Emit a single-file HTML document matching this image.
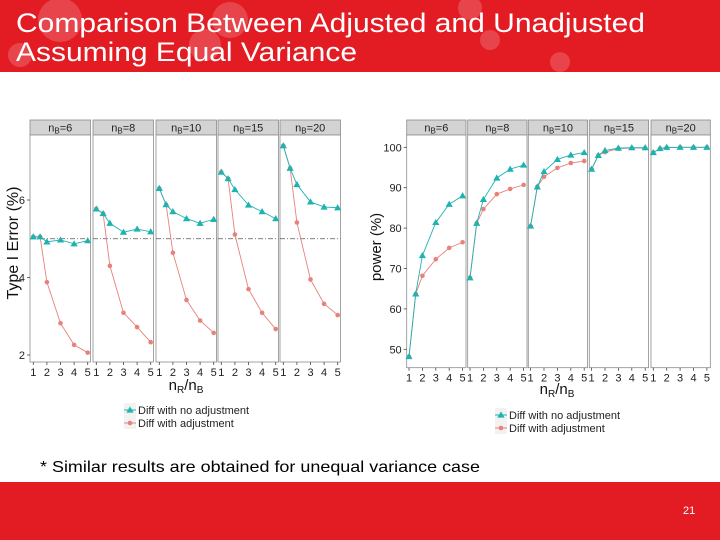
<!DOCTYPE html>
<html><head><meta charset="utf-8"><style>
html,body{margin:0;padding:0;background:#fff;}
svg{display:block;font-family:"Liberation Sans",Arial,sans-serif;}
</style></head><body>
<svg id="s" width="720" height="540" viewBox="0 0 720 540" xmlns="http://www.w3.org/2000/svg">
<rect x="0" y="0" width="720" height="72" fill="#e31b23"/>
<g fill="#ffffff" opacity="0.18">
<circle cx="60" cy="20" r="22"/><circle cx="230" cy="20" r="18"/><circle cx="205" cy="45" r="16"/><circle cx="470" cy="8" r="12"/><circle cx="490" cy="40" r="10"/><circle cx="560" cy="62" r="10"/><circle cx="20" cy="55" r="12"/>
</g>
<text x="16" y="32" font-size="27" fill="#fff" textLength="629" lengthAdjust="spacingAndGlyphs">Comparison Between Adjusted and Unadjusted</text>
<text x="16" y="61" font-size="27" fill="#fff" textLength="341" lengthAdjust="spacingAndGlyphs">Assuming Equal Variance</text>
<text x="40" y="472" font-size="16" fill="#000" textLength="440" lengthAdjust="spacingAndGlyphs">* Similar results are obtained for unequal variance case</text>
<rect x="0" y="482" width="720" height="58" fill="#e31b23"/>
<text x="683" y="514" font-size="11" fill="#fff">21</text>
<g id="left"></g>
<g id="right"></g>
</svg>
<script>
const groups = ["6","8","10","15","20"];
const xCats = [1,1.5,2,3,4,5];
const xTicks = [1,2,3,4,5];
const errTicks = [2,4,6];
const errNoAdj = [[5.05,5.05,4.92,4.97,4.87,4.95],[5.77,5.65,5.40,5.17,5.25,5.18],[6.30,5.88,5.70,5.52,5.40,5.50],[6.72,6.55,6.27,5.87,5.70,5.52],[7.40,6.82,6.40,5.95,5.82,5.80]];
const errAdj = [[5.05,5.05,3.88,2.82,2.26,2.06],[5.77,5.65,4.30,3.09,2.72,2.33],[6.30,5.88,4.64,3.42,2.89,2.57],[6.72,6.55,5.11,3.70,3.09,2.67],[7.40,6.82,5.42,3.95,3.32,3.03]];
const powTicks = [50,60,70,80,90,100];
const powNoAdj = [[48.2,63.7,73.2,81.4,85.9,88.0],[67.7,81.2,87.1,92.4,94.6,95.6],[80.5,90.2,94.0,97.0,98.1,98.7],[94.6,98.0,99.2,99.8,99.9,99.9],[98.7,99.7,100,100,100,100]];
const powAdj = [[48.2,63.7,68.2,72.3,75.1,76.5],[67.7,81.2,84.7,88.4,89.7,90.7],[80.5,90.2,92.7,94.9,96.1,96.6],[94.6,98.0,98.8,99.7,99.8,99.8],[98.7,99.7,99.9,100,100,100]];
const refLine = 5;
const NS="http://www.w3.org/2000/svg";
function mk(parent, tag, attrs, txt){const e=document.createElementNS(NS,tag);for(const k in attrs)e.setAttribute(k,attrs[k]);if(txt!==undefined)e.textContent=txt;parent.appendChild(e);return e;}
function chart(root, cfg){
  const yS = v => cfg.y0 - (v - cfg.v0) * cfg.k;
  for(let p=0;p<groups.length;p++){
    const L = cfg.lefts[p], W = cfg.w;
    const xS = v => L + cfg.xo + (v-1)*cfg.step;
    const g = mk(root,'g',{});
    
    
    const strip = mk(g,'rect',{x:L,y:cfg.top,width:W,height:15,fill:'#d3d3d3',stroke:'#8c8c8c','stroke-width':0.8});
    
    
    const st = mk(g,'text',{x:L+W/2,y:cfg.top+11.5,'font-size':11,'text-anchor':'middle',fill:'#222'});
    
    
    mk(st,'tspan',{},'n');mk(st,'tspan',{'font-size':8,dy:2},'B');mk(st,'tspan',{dy:-2},'='+groups[p]);
    const bg = mk(g,'rect',{x:L,y:cfg.top+15,width:W,height:cfg.bot-cfg.top-15,fill:'#fff',stroke:'#8c8c8c','stroke-width':0.8});
    
    
    if(cfg.ref){const rl=mk(g,'line',{x1:L,x2:L+W,y1:yS(refLine),y2:yS(refLine),stroke:'#555','stroke-width':0.8,'stroke-dasharray':'5,2,1,2'});
      
      }
    xTicks.forEach(t=>{
      mk(g,'line',{x1:xS(t),x2:xS(t),y1:cfg.bot,y2:cfg.bot+3,stroke:'#444','stroke-width':0.8});
      const tl=mk(g,'text',{x:xS(t),y:cfg.bot+14,'font-size':11,'text-anchor':'middle',fill:'#222'},String(t));
      
      
    });
    [[cfg.adj,'#e8817a','adjusted'],[cfg.noadj,'#1fb3b0','unadjusted']].forEach(([data,col,nm])=>{
      const vals=data[p];
      const pts=xCats.map((x,i)=>xS(x)+','+yS(vals[i])).join(' ');
      const ln=mk(g,'polyline',{points:pts,fill:'none',stroke:col,'stroke-width':0.9});
      
      
      xCats.forEach((x,i)=>{
        const cx=xS(x), cy=yS(vals[i]);
        let m;
        if(nm==='adjusted') m=mk(g,'circle',{cx:cx,cy:cy,r:2.3,fill:col});
        else m=mk(g,'polygon',{points:`${cx},${cy-3.6} ${cx-3.6},${cy+2.6} ${cx+3.6},${cy+2.6}`,fill:col});
        
        
      });
    });
  }
  const L0=cfg.lefts[0];
  cfg.ticks.forEach(t=>{
    mk(root,'line',{x1:L0-3,x2:L0,y1:yS(t),y2:yS(t),stroke:'#444','stroke-width':0.8});
    const tl=mk(root,'text',{x:L0-5,y:yS(t)+4,'font-size':11,'text-anchor':'end',fill:'#222'},String(t));
    
    
  });
  const yt=mk(root,'text',{x:0,y:0,'font-size':cfg.ytSize,'text-anchor':'middle',fill:'#111',transform:`translate(${cfg.ytX},${cfg.ytY}) rotate(-90)`},cfg.ytitle);
  
  
  const xt=mk(root,'text',{x:cfg.xtX,y:cfg.xtY,'font-size':15,'text-anchor':'middle',fill:'#111'});
  
  
  mk(xt,'tspan',{},'n');mk(xt,'tspan',{'font-size':10,dy:3},'R');mk(xt,'tspan',{dy:-3},'/n');mk(xt,'tspan',{'font-size':10,dy:3},'B');
  const lg=mk(root,'g',{});
  
  
  mk(lg,'rect',{x:cfg.lgX,y:cfg.lgY,width:12,height:26,fill:'#f2f2f2'});
  const a=cfg.lgX+6, b1=cfg.lgY+7, b2=cfg.lgY+20;
  mk(lg,'line',{x1:cfg.lgX,x2:cfg.lgX+12,y1:b1,y2:b1,stroke:'#1fb3b0'});
  mk(lg,'polygon',{points:`${a},${b1-3.6} ${a-3.6},${b1+2.6} ${a+3.6},${b1+2.6}`,fill:'#1fb3b0'});
  mk(lg,'line',{x1:cfg.lgX,x2:cfg.lgX+12,y1:b2,y2:b2,stroke:'#e8817a'});
  mk(lg,'circle',{cx:a,cy:b2,r:2.3,fill:'#e8817a'});
  const e1=mk(lg,'text',{x:cfg.lgX+14,y:b1+4,'font-size':11,fill:'#222'},'Diff with no adjustment');
  
  
  const e2=mk(lg,'text',{x:cfg.lgX+14,y:b2+4,'font-size':11,fill:'#222'},'Diff with adjustment');
  
  
}
chart(document.getElementById('left'),{lefts:[30,93,156,218,280],w:60.5,top:120,bot:362,y0:355,v0:2,k:38.75,xo:3.3,step:13.6,
  noadj:errNoAdj,adj:errAdj,ticks:errTicks,ref:true,ytitle:'Type I Error (%)',ytSize:16,ytX:18,ytY:243,xtX:186,xtY:390,lgX:124,lgY:403});
chart(document.getElementById('right'),{lefts:[406.7,467.7,528.3,589.3,651],w:59.3,top:120,bot:367.7,y0:349.3,v0:50,k:4.04,xo:2.3,step:13.4,
  noadj:powNoAdj,adj:powAdj,ticks:powTicks,ref:false,ytitle:'power (%)',ytSize:15,ytX:381,ytY:247,xtX:557,xtY:394,lgX:495,lgY:408});
</script>
</body></html>
